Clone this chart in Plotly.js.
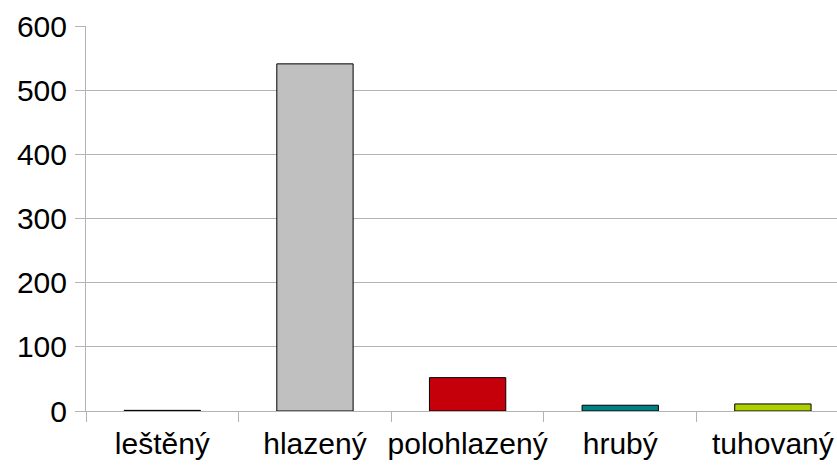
<!DOCTYPE html>
<html>
<head>
<meta charset="utf-8">
<script src="https://cdn.plot.ly/plotly-3.0.1.min.js"></script>
<style>html,body{margin:0;padding:0;background:#fff;overflow:hidden}</style>
</head>
<body>
<div id="chart" style="width:837px;height:467px"></div>
<script>
const categories = ["leštěný", "hlazený", "polohlazený", "hrubý", "tuhovaný"];
const values = [1, 541, 52, 9, 11];
const barColors = ["#333333", "#c0c0c0", "#c5000b", "#008080", "#aecf00"];
const yTicks = [0, 100, 200, 300, 400, 500, 600];

const trace = {
  type: "bar",
  x: categories,
  y: values,
  marker: { color: barColors, line: { color: "#000000", width: 1 } },
  hoverinfo: "none"
};

const layout = {
  width: 837,
  height: 467,
  margin: { l: 86, r: 0, t: 26, b: 56 },
  paper_bgcolor: "#ffffff",
  plot_bgcolor: "#ffffff",
  showlegend: false,
  bargap: 0.5,
  font: { family: "Liberation Sans, Arial, sans-serif", size: 30, color: "#000000" },
  xaxis: {
    type: "category",
    range: [-0.5, 4.42],
    showgrid: false,
    zeroline: false,
    showline: true,
    linecolor: "#b3b3b3",
    linewidth: 1,
    ticks: "outside",
    tickson: "boundaries",
    ticklen: 10,
    tickcolor: "#b3b3b3",
    tickwidth: 1,
    tickangle: 0,
    ticklabelstandoff: 6,
    automargin: false,
    tickfont: { size: 30, color: "#000000" }
  },
  yaxis: {
    range: [0, 600],
    tickvals: yTicks,
    ticktext: yTicks.map(String),
    showgrid: true,
    gridcolor: "#b3b3b3",
    gridwidth: 1,
    zeroline: false,
    showline: true,
    linecolor: "#b3b3b3",
    linewidth: 1,
    ticks: "outside",
    ticklen: 10,
    tickcolor: "#b3b3b3",
    tickwidth: 1,
    ticklabelstandoff: 2,
    automargin: false,
    tickfont: { size: 30, color: "#000000" }
  }
};

Plotly.newPlot("chart", [trace], layout, { staticPlot: true, displayModeBar: false });
</script>
</body>
</html>
